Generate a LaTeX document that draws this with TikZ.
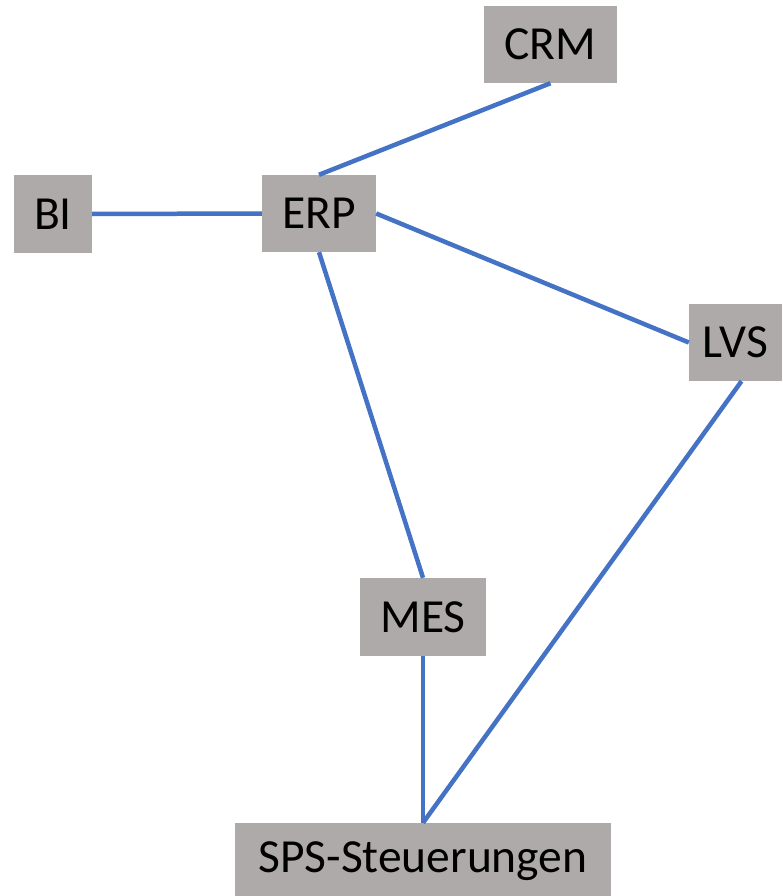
\documentclass[tikz,border=0pt]{standalone}
\usepackage{fontspec}
\setmainfont{Carlito}
\usetikzlibrary{calc}
\definecolor{boxgray}{HTML}{AEAAAA}
\definecolor{linkblue}{HTML}{4472C4}
\tikzset{
  sysbox/.style={fill=boxgray, draw=none, inner sep=0pt, minimum height=77pt, font=\fontsize{47.5}{57}\selectfont, text=black},
  link/.style={draw=linkblue, line width=4.5pt}
}
\begin{document}
\begin{tikzpicture}[x=1pt,y=-1pt]
\clip (0,0) rectangle (782,896);
\fill[white] (0,0) rectangle (782,896);
\node[sysbox, minimum width=133pt] (crm) at (550.5,44.5) {CRM};
\node[sysbox, minimum width=114pt] (erp) at (319,213.5) {ERP};
\node[sysbox, minimum width=78pt, minimum height=78pt] (bi) at (53,214) {BI};
\node[sysbox, minimum width=93pt] (lvs) at (735.5,342.5) {LVS};
\node[sysbox, minimum width=126pt, minimum height=78pt] (mes) at (423,617) {MES};
\node[sysbox, minimum width=376pt] (sps) at (423,861.5) {SPS-Steuerungen};
\draw[link] (crm.south) -- (erp.north);
\draw[link] (bi.east) -- (erp.west);
\draw[link] (erp.east) -- (lvs.west);
\draw[link] (erp.south) -- (mes.north);
\draw[link] (mes.south) -- (sps.north);
\draw[link] ($(lvs.south)+(6,0)$) -- (sps.north);
\end{tikzpicture}
\end{document}
